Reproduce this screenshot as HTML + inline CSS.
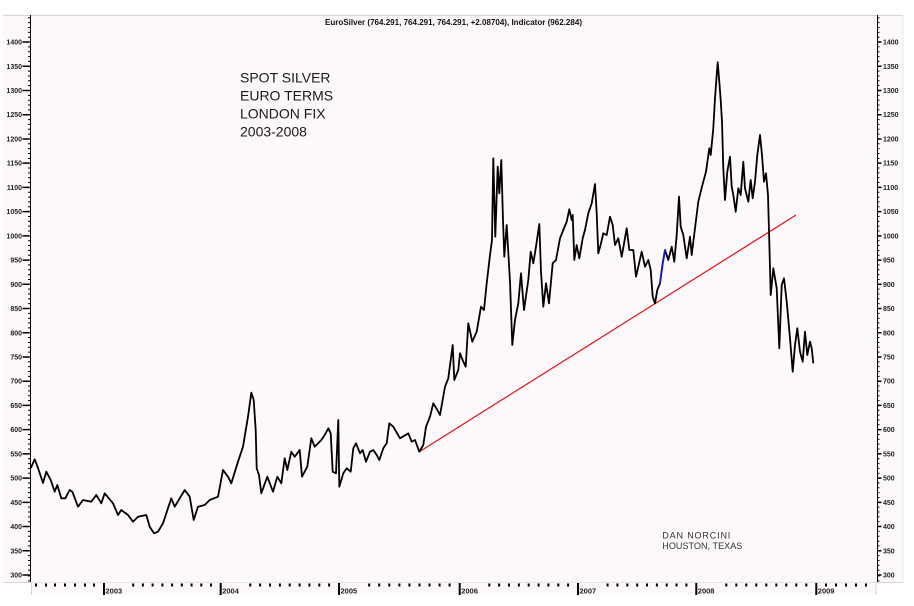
<!DOCTYPE html>
<html><head><meta charset="utf-8"><style>html,body{margin:0;padding:0;background:#fff;}svg{display:block}</style></head>
<body>
<svg width="914" height="606" viewBox="0 0 914 606" xmlns="http://www.w3.org/2000/svg" font-family="'Liberation Sans', Arial, sans-serif">
<rect x="0" y="0" width="914" height="606" fill="#ffffff"/>
<!-- panel -->
<rect x="3" y="15" width="900" height="567.5" fill="#fcf8fc"/>
<rect x="31" y="582" width="845" height="13" fill="#fcf8fc"/>
<line x1="3" y1="15.5" x2="903" y2="15.5" stroke="#d4d4d4" stroke-width="1"/>
<line x1="3" y1="582.5" x2="31" y2="582.5" stroke="#d4d4d4" stroke-width="1"/>
<line x1="876" y1="582.5" x2="903" y2="582.5" stroke="#d4d4d4" stroke-width="1"/>
<line x1="31.5" y1="582" x2="31.5" y2="595" stroke="#d4d4d4" stroke-width="1"/>
<line x1="876" y1="582" x2="876" y2="595" stroke="#d4d4d4" stroke-width="1"/>
<line x1="31" y1="582.5" x2="876" y2="582.5" stroke="#e4e4e4" stroke-width="1"/>
<line x1="903" y1="15" x2="903" y2="583" stroke="#e8e8e8" stroke-width="1"/>

<!-- title -->
<text x="325" y="25" font-size="8" font-weight="bold" fill="#111" textLength="257" lengthAdjust="spacingAndGlyphs">EuroSilver (764.291, 764.291, 764.291, +2.08704), Indicator (962.284)</text>

<!-- left axis -->
<line x1="30.5" y1="15" x2="30.5" y2="582" stroke="#000" stroke-width="1"/>
<line x1="29.5" y1="575.5" x2="29.5" y2="15" stroke="#000" stroke-width="3" stroke-dasharray="1 3.845"/>
<line x1="29.5" y1="575.5" x2="29.5" y2="582" stroke="#000" stroke-width="3" stroke-dasharray="1 3.845"/>
<line x1="26" y1="575.75" x2="26" y2="41" stroke="#000" stroke-width="7" stroke-dasharray="1.5 22.725"/>
<!-- right axis -->
<line x1="877.5" y1="15" x2="877.5" y2="582" stroke="#000" stroke-width="1"/>
<line x1="878.5" y1="575.5" x2="878.5" y2="15" stroke="#000" stroke-width="2" stroke-dasharray="1 3.845"/>
<line x1="878.5" y1="575.5" x2="878.5" y2="582" stroke="#000" stroke-width="2" stroke-dasharray="1 3.845"/>
<line x1="879.5" y1="575.75" x2="879.5" y2="41" stroke="#000" stroke-width="4" stroke-dasharray="1.5 22.725"/>

<g font-size="7" font-weight="bold" fill="#222" text-anchor="end">
<text x="22" y="44.5">1400</text>
<text x="22" y="68.8">1350</text>
<text x="22" y="93">1300</text>
<text x="22" y="117.2">1250</text>
<text x="22" y="141.5">1200</text>
<text x="22" y="165.7">1150</text>
<text x="22" y="189.9">1100</text>
<text x="22" y="214.1">1050</text>
<text x="22" y="238.4">1000</text>
<text x="22" y="262.6">950</text>
<text x="22" y="286.8">900</text>
<text x="22" y="311">850</text>
<text x="22" y="335.3">800</text>
<text x="22" y="359.5">750</text>
<text x="22" y="383.7">700</text>
<text x="22" y="407.9">650</text>
<text x="22" y="432.2">600</text>
<text x="22" y="456.4">550</text>
<text x="22" y="480.6">500</text>
<text x="22" y="504.8">450</text>
<text x="22" y="529.1">400</text>
<text x="22" y="553.3">350</text>
<text x="22" y="577.5">300</text>
</g>
<g font-size="7" font-weight="bold" fill="#222">
<text x="883" y="44.5">1400</text>
<text x="883" y="68.8">1350</text>
<text x="883" y="93">1300</text>
<text x="883" y="117.2">1250</text>
<text x="883" y="141.5">1200</text>
<text x="883" y="165.7">1150</text>
<text x="883" y="189.9">1100</text>
<text x="883" y="214.1">1050</text>
<text x="883" y="238.4">1000</text>
<text x="883" y="262.6">950</text>
<text x="883" y="286.8">900</text>
<text x="883" y="311">850</text>
<text x="883" y="335.3">800</text>
<text x="883" y="359.5">750</text>
<text x="883" y="383.7">700</text>
<text x="883" y="407.9">650</text>
<text x="883" y="432.2">600</text>
<text x="883" y="456.4">550</text>
<text x="883" y="480.6">500</text>
<text x="883" y="504.8">450</text>
<text x="883" y="529.1">400</text>
<text x="883" y="553.3">350</text>
<text x="883" y="577.5">300</text>
</g>

<!-- date axis: month dots -->
<g fill="#000">
<rect x="35" y="583.5" width="2" height="3"/><rect x="45" y="583.5" width="2" height="3"/><rect x="54" y="583.5" width="2" height="3"/><rect x="64" y="583.5" width="2" height="3"/><rect x="74" y="583.5" width="2" height="3"/><rect x="84" y="583.5" width="2" height="3"/><rect x="93" y="583.5" width="2" height="3"/>
<rect x="132.2" y="583.5" width="2" height="3"/><rect x="141.9" y="583.5" width="2" height="3"/><rect x="151.6" y="583.5" width="2" height="3"/><rect x="161.4" y="583.5" width="2" height="3"/><rect x="171.1" y="583.5" width="2" height="3"/><rect x="180.8" y="583.5" width="2" height="3"/><rect x="190.6" y="583.5" width="2" height="3"/><rect x="200.3" y="583.5" width="2" height="3"/><rect x="210" y="583.5" width="2" height="3"/>
<rect x="249.3" y="583.5" width="2" height="3"/><rect x="259.1" y="583.5" width="2" height="3"/><rect x="269" y="583.5" width="2" height="3"/><rect x="278.9" y="583.5" width="2" height="3"/><rect x="288.7" y="583.5" width="2" height="3"/><rect x="298.6" y="583.5" width="2" height="3"/><rect x="308.4" y="583.5" width="2" height="3"/><rect x="318.3" y="583.5" width="2" height="3"/><rect x="328.1" y="583.5" width="2" height="3"/>
<rect x="368.2" y="583.5" width="2" height="3"/><rect x="378.2" y="583.5" width="2" height="3"/><rect x="388.3" y="583.5" width="2" height="3"/><rect x="398.4" y="583.5" width="2" height="3"/><rect x="408.4" y="583.5" width="2" height="3"/><rect x="418.5" y="583.5" width="2" height="3"/><rect x="428.5" y="583.5" width="2" height="3"/><rect x="438.6" y="583.5" width="2" height="3"/><rect x="448.6" y="583.5" width="2" height="3"/>
<rect x="488.3" y="583.5" width="2" height="3"/><rect x="498.1" y="583.5" width="2" height="3"/><rect x="508" y="583.5" width="2" height="3"/><rect x="517.9" y="583.5" width="2" height="3"/><rect x="527.7" y="583.5" width="2" height="3"/><rect x="537.6" y="583.5" width="2" height="3"/><rect x="547.4" y="583.5" width="2" height="3"/><rect x="557.3" y="583.5" width="2" height="3"/><rect x="567.1" y="583.5" width="2" height="3"/>
<rect x="606.6" y="583.5" width="2" height="3"/><rect x="616.4" y="583.5" width="2" height="3"/><rect x="626.3" y="583.5" width="2" height="3"/><rect x="636.2" y="583.5" width="2" height="3"/><rect x="646" y="583.5" width="2" height="3"/><rect x="655.9" y="583.5" width="2" height="3"/><rect x="665.7" y="583.5" width="2" height="3"/><rect x="675.6" y="583.5" width="2" height="3"/><rect x="685.4" y="583.5" width="2" height="3"/>
<rect x="725.3" y="583.5" width="2" height="3"/><rect x="735.3" y="583.5" width="2" height="3"/><rect x="745.3" y="583.5" width="2" height="3"/><rect x="755.3" y="583.5" width="2" height="3"/><rect x="765.3" y="583.5" width="2" height="3"/><rect x="775.3" y="583.5" width="2" height="3"/><rect x="785.3" y="583.5" width="2" height="3"/><rect x="795.3" y="583.5" width="2" height="3"/><rect x="805.3" y="583.5" width="2" height="3"/>
<rect x="825" y="583.5" width="2" height="3"/><rect x="835" y="583.5" width="2" height="3"/><rect x="845" y="583.5" width="2" height="3"/><rect x="855" y="583.5" width="2" height="3"/><rect x="865" y="583.5" width="2" height="3"/>
<!-- year bars -->
<rect x="103" y="583" width="2" height="12"/>
<rect x="219.7" y="583" width="2" height="12"/>
<rect x="338" y="583" width="2" height="12"/>
<rect x="458.7" y="583" width="2" height="12"/>
<rect x="577" y="583" width="2" height="12"/>
<rect x="695.3" y="583" width="2" height="12"/>
<rect x="815.3" y="583" width="2" height="12"/>
</g>
<g font-size="7.5" font-weight="bold" fill="#222">
<text x="105.5" y="593.5">2003</text>
<text x="222.2" y="593.5">2004</text>
<text x="340.5" y="593.5">2005</text>
<text x="461.2" y="593.5">2006</text>
<text x="579.5" y="593.5">2007</text>
<text x="697.8" y="593.5">2008</text>
<text x="817.8" y="593.5">2009</text>
</g>

<!-- annotations -->
<g font-size="14" fill="#1a1a1a">
<text x="240" y="82.7">SPOT SILVER</text>
<text x="240" y="100.7">EURO TERMS</text>
<text x="240" y="118.7">LONDON FIX</text>
<text x="240" y="136.7">2003-2008</text>
</g>
<g font-size="9" fill="#333" lengthAdjust="spacingAndGlyphs">
<text x="662.3" y="538.4" textLength="68">DAN NORCINI</text>
<text x="662.3" y="549" textLength="80">HOUSTON, TEXAS</text>
</g>

<!-- trend line -->
<line x1="419.3" y1="451.7" x2="796" y2="215" stroke="#e01010" stroke-width="1.2"/>

<!-- price series -->
<polyline fill="none" stroke="#000" stroke-width="1.8" stroke-linejoin="round" points="
30.7,468.3 34.7,459.3 38,468 43,483 46.3,471.7 50.7,480 54.7,491.7 57.3,485 61.3,498.3 65.3,498.3 69.7,490 72.3,491.7 78,506.7 83,500 91.3,501.7 96.3,495 101.3,503.3 104.7,493.3 113,503.3 118,515 121.3,510 128,515 133,521.7 138,516.7 146.3,515 149.7,526.7 154,533.3 158,531.7 163,523.3 166.3,513.3 171.3,498.3 174.7,506.7 184.7,490 189.7,496.7 193.7,520 198,506.7 204.7,505 209.7,500 218,496.7 223,470 228,476.7 231.3,483.3 238,461.7 243,446.7 248,416.7 251.3,392.7 253.7,400 255.7,430 256.7,468.3 259,475 261.3,493.3 267.3,476.7 273,491.7 277.3,476.7 281.3,483.3 284.7,458.3 287.3,470 291.3,451.7 294.7,456.7 299.7,450 302,476.7 307.3,466.7 311.3,438.3 314.7,446.7 321.3,440 324.7,435
328.3,428.3 330.7,433.3 332.7,471.7 336,473.3 338.3,420 339.3,486.7 343.3,473.3 346.7,468.3 350.7,471.7 353.3,448.3 356,443.3 360,453.3 362.7,450 366,461.7 370,451.7 373.3,450 376.7,455 379.3,460 383.3,448.3 386.7,443.3 389.3,423.3 393.3,426.7 400,438.3 408.3,433.3 411.7,441.7 415,440 419.3,451.7 423.3,445 426,426.7 430,416.7 433.3,403.3 437.3,410 440,415 445,386.7 448.3,378.3 452.7,345 454.3,380 458.3,370 460,353.3 463.3,361.7 465.7,366.7 468.3,323.3 472.3,341.7 476.7,331.7 481,306.7 484,310 486.7,283.3 490,255 492,240 493.3,158.3 495.3,236.7 497.7,166.7 499.3,193.3 501.3,160 503,220 504.3,256.7 506.7,225 510,281.7 512.3,345 515,320 518.3,303.3 521,273.3 524,310 528.3,280 530.7,251.7 533.3,263.3 536,246.7 539.3,224
541,271.7 543.3,306.7 546,283.3 549,303.3 552.7,263.3 556,260 560,238.3 563.3,230 566.7,221.7 569.3,209.3 571.7,220 572.7,215 574.3,260 576.7,245 579.3,258.3 582.7,238.3 585,230 588.3,213.3 591.7,203.3 595,184 596.7,213.3 598.3,253.3 601,243.3 603.3,233.3 606.7,235 610,216.7 612.7,225 615,245 618.3,238.3 621.7,256.7 626.7,228.3 629.3,250 633.3,250 636,276.7 638.3,266.7 641.7,251.7 645,266.7 648.3,260 650.7,270 652.7,296.7 655,303.3 657.3,290 660,283.3 662.7,263.3 665,250 668.3,260 671.7,246.7 674.3,261.7 676.7,235 679,196.7 680.7,226.7
683.3,235 686.7,258.3 690,236.7 691.7,255 695,228.3 698.3,201.7 700.7,191.7 703.3,181.7 706,171.7 709.3,148.3 710.7,155 713.3,128.3 715,98.3 716.7,75 717.7,62.3 719.3,81.7 720.7,100 722,121.7 723.3,168.3 725,200 727.3,171.7 730,156.7 731.7,186.7 733.3,195 735.7,211.7 738.3,188.3 740.7,195 743.3,161.7 745,188.3 748.3,201.7 750.7,180 752.7,198.3 755,181.7 757.3,155 760,135 762,155 764,181.7 766,173.3 768,195 769.3,241.7 770.7,295 773.3,268.3 776.7,288.3 779.3,348.3 781.7,285 784,278.3 786.7,301.7 790,338.3 792.7,371.7 795,345 797.3,328.3 800,351.7 802.7,361.7 805,331.7 807.3,355 810,341.7 811.7,348.3 813.3,363.3"/>
<polyline fill="none" stroke="#1a1ac8" stroke-width="1.8" points="660,283.3 662.7,263.3 665,250"/>
</svg>
</body></html>
